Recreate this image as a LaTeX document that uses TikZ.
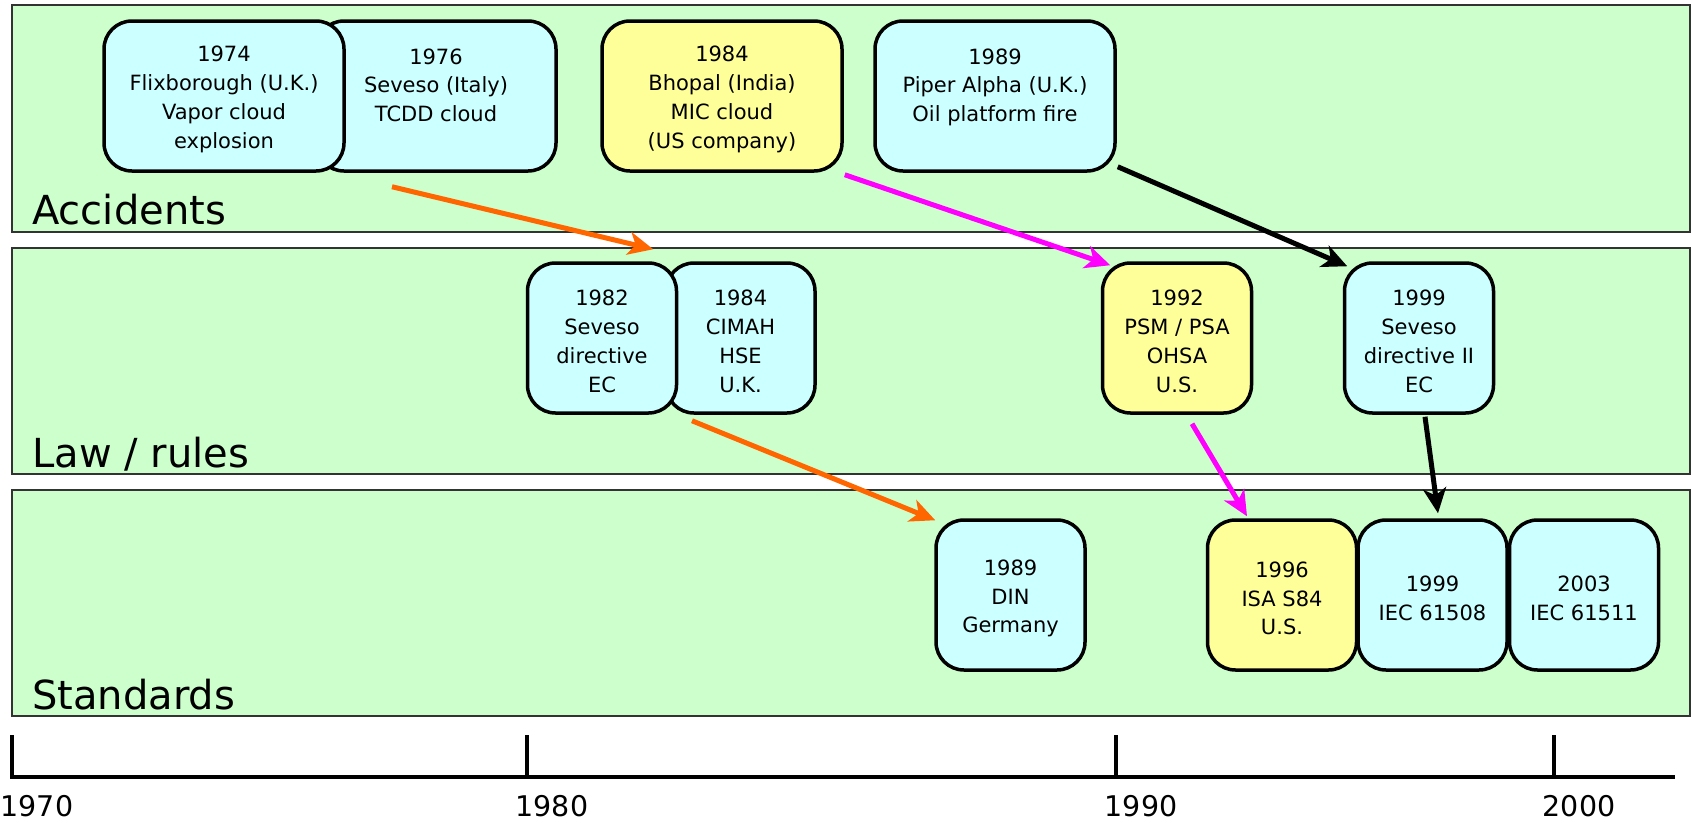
\documentclass[tikz,border=0pt]{standalone}
\usepackage{fontspec}
\setmainfont{DejaVu Sans}
\usetikzlibrary{arrows.meta,calc}

\definecolor{bandgreen}{HTML}{CCFFCC}
\definecolor{boxcyan}{HTML}{CCFFFF}
\definecolor{boxyellow}{HTML}{FFFF99}
\definecolor{arrorange}{HTML}{FF6600}
\definecolor{arrmagenta}{HTML}{FF00FF}

\newcommand\evfont{\fontsize{21}{28.8}\selectfont}
\newcommand\bandfont{\fontsize{40}{48}\selectfont}
\newcommand\yearfont{\fontsize{28.5}{34}\selectfont}
% taller first line: lowers the centred text block a little
\newcommand\evtop{\rule{0pt}{22.5pt}}

\begin{document}
\begin{tikzpicture}[x=1pt,y=-1pt,
  band/.style={draw=black!80, line width=1.5pt, fill=bandgreen},
  bandlabel/.style={anchor=base west, inner sep=0pt, font=\bandfont},
  evbox/.style={draw=black, line width=3.5pt, rounded corners=28pt,
    align=center, font=\evfont, inner sep=0pt, minimum height=150pt},
  wide/.style={evbox, minimum width=240pt},
  narrow/.style={evbox, minimum width=149pt},
  cyanbox/.style={fill=boxcyan},
  yellowbox/.style={fill=boxyellow},
  link/.style={line width=5pt, -{Stealth[length=25pt, width=23pt, inset=7pt]}},
  yearlabel/.style={anchor=base, inner sep=0pt, font=\yearfont},
  axis/.style={line width=4.5pt}
]
\useasboundingbox (0,0) rectangle (1692,822);

% three horizontal bands
\draw[band] (12,5) rectangle (1690,232);
\draw[band] (12,248) rectangle (1690,474);
\draw[band] (12,490) rectangle (1690,716);
\node[bandlabel] (lblacc) at (32,224) {Accidents};
\node[bandlabel] (lbllaw) at (32,467) {Law / rules};
\node[bandlabel] (lblstd) at (32,709) {Standards};

% accidents
\node[wide, cyanbox] (a1976) at (436,96) {\evtop 1976\\Seveso (Italy)\\TCDD cloud\\\mbox{}};
\node[wide, cyanbox] (a1974) at (224,96) {\evtop 1974\\Flixborough (U.K.)\\Vapor cloud\\explosion};
\node[wide, yellowbox] (a1984) at (722,96) {\evtop 1984\\Bhopal (India)\\MIC cloud\\(US company)};
\node[wide, cyanbox] (a1989) at (995,96) {\evtop 1989\\Piper Alpha (U.K.)\\Oil platform fire\\\mbox{}};

% law / rules
\node[narrow, cyanbox] (l1984) at (740.5,338) {\evtop 1984\\CIMAH\\HSE\\U.K.};
\node[narrow, cyanbox] (l1982) at (602,338) {\evtop 1982\\Seveso\\directive\\EC};
\node[narrow, yellowbox] (l1992) at (1177,338) {\evtop 1992\\PSM / PSA\\OHSA\\U.S.};
\node[narrow, cyanbox] (l1999) at (1419,338) {\evtop 1999\\Seveso\\directive II\\EC};

% standards
\node[narrow, cyanbox] (s1989) at (1010.5,595) {\evtop 1989\\DIN\\Germany};
\node[narrow, yellowbox] (s1996) at (1282,595) {\evtop 1996\\ISA S84\\U.S.};
\node[narrow, cyanbox] (s1999) at (1432.5,595) {\evtop 1999\\IEC 61508};
\node[narrow, cyanbox] (s2003) at (1584,595) {\evtop 2003\\IEC 61511};

% influence arrows
\draw[link, arrorange] ($(a1976.south)+(-44,14)$) -- ($(l1982.north east)+(-25,-12)$);
\draw[link, arrorange] ($(l1984.south)+(-48.5,6)$) -- ($(s1989.north west)+(1,2)$);
\draw[link, arrmagenta] ($(a1984.south east)+(1,2)$) -- ($(l1992.north west)+(9.5,4)$);
\draw[link, arrmagenta] ($(l1992.south)+(15,9)$) -- ($(s1996.north)+(-35,-2)$);
\draw[link, black] ($(a1989.south east)+(1,-6)$) -- ($(l1999.north west)+(4.5,5)$);
\draw[link, black] ($(l1999.south)+(6,2)$) -- ($(s1999.north)+(5.5,-5)$);

% time axis
\coordinate (t1970) at (12,777);
\coordinate (t1980) at (527,777);
\coordinate (t1990) at (1116,777);
\coordinate (t2000) at (1554,777);
\coordinate (tend) at (1675,777);
\draw[axis] ($(t1970)+(0,-42)$) -- (t1970) -- (tend);
\foreach \t in {t1980,t1990,t2000}
  \draw[axis] ($(\t)+(0,-42)$) -- (\t);
\node[yearlabel] (y1970) at ($(t1970)+(25,39)$) {1970};
\node[yearlabel] (y1980) at ($(t1980)+(25,39)$) {1980};
\node[yearlabel] (y1990) at ($(t1990)+(25,39)$) {1990};
\node[yearlabel] (y2000) at ($(t2000)+(25,39)$) {2000};
\end{tikzpicture}
\end{document}
